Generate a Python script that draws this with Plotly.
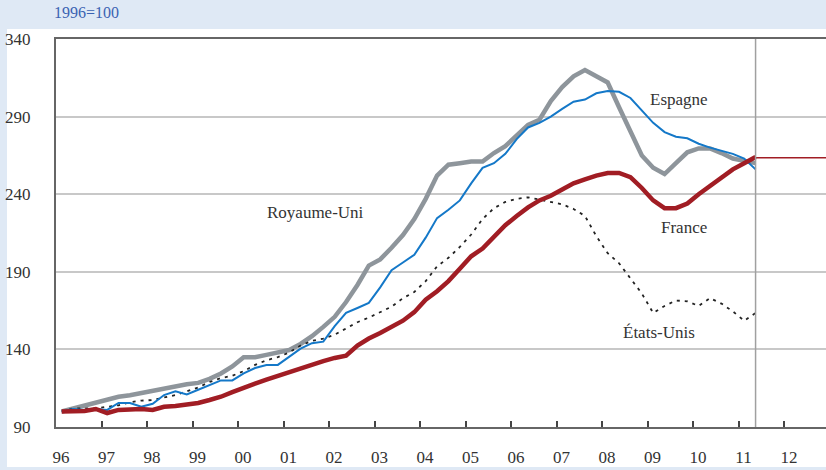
import plotly.graph_objects as go

# quarterly, 1996 Q1 .. 2011 Q2 (1996=100)
quarters = [1996 + 0.125 + 0.25 * i for i in range(62)]

royaume_uni = [100, 102, 104, 106, 108, 109.5, 110.5, 112, 113, 114.5, 116, 117.5,
               118.4, 121, 124.5, 129, 135, 135, 136.5, 138, 139.6, 143.5, 148.5, 154.5,
               161, 170.5, 181.5, 194, 198, 205.5, 213.7, 224, 237, 252, 259, 260,
               261, 261, 266.5, 271, 278, 284.6, 288, 300, 309, 316, 320, 316,
               312, 296, 281, 265, 257, 253, 260, 267, 269.5, 269.5, 266.5, 263,
               261.5, 260]
espagne = [100, 101.6, 101, 101.6, 101, 105.5, 105.5, 103, 105, 110.6, 113, 111,
           114, 117, 120, 120, 124.5, 128, 130, 130, 135, 140.5, 144, 145,
           155, 163.5, 166.7, 170, 180, 191, 196, 201, 212, 224.6, 230, 236,
           247, 257, 260, 266, 275.5, 283, 286, 290, 295, 299.6, 301, 305,
           306.5, 306, 302, 294, 286, 280, 277, 276, 272.5, 270, 268, 266,
           263, 256]
france = [100, 100, 100.3, 101.6, 99, 101, 101.3, 101.6, 101, 103, 103.6, 104.5,
          105.5, 107.4, 109.5, 112.5, 115.5, 118, 120.5, 123, 125.4, 128, 130.5, 132.5,
          134.5, 136, 142.5, 147, 150.6, 154.5, 158.5, 164, 172, 177.5, 184, 192,
          200, 205, 213, 220, 226, 231.5, 236, 239, 243, 247, 249.5, 252,
          253.7, 253.7, 251, 244, 236, 231, 231, 234, 240, 245.5, 251, 256,
          260, 264]
etats_unis = [100, 102, 102, 102, 103, 104, 106, 107, 107.4, 109, 110.6, 113,
              115.5, 119, 121.5, 123, 126, 130, 133, 135, 138, 142.5, 145.5, 147,
              149.5, 153.5, 157.5, 160.5, 164, 167.5, 173, 177, 184, 193.5, 199, 206,
              214, 224, 231, 235, 237, 238, 236.5, 235, 233.5, 230.5, 226, 213,
              202, 195.5, 186, 176, 163.5, 168, 171.5, 171, 168, 173, 169.5, 164.5,
              158.5, 163.5]

year_ticks = list(range(1996, 2013))
year_labels = ['%02d' % (y % 100) for y in year_ticks]
last_x = quarters[-1]
last_fr = 263.5

serif = "'Liberation Serif', 'DejaVu Serif', serif"
fig = go.Figure()

fig.add_trace(go.Scatter(x=quarters, y=royaume_uni, mode='lines', name='Royaume-Uni',
                         line=dict(color='#8e959b', width=4.5)))
fig.add_trace(go.Scatter(x=quarters, y=etats_unis, mode='lines', name='États-Unis',
                         line=dict(color='#222222', width=1.8, dash='3px,5px')))
fig.add_trace(go.Scatter(x=quarters, y=espagne, mode='lines', name='Espagne',
                         line=dict(color='#1478c8', width=2)))
fig.add_trace(go.Scatter(x=quarters, y=france, mode='lines', name='France',
                         line=dict(color='#a11d24', width=4.5)))
# prolongation France
fig.add_trace(go.Scatter(x=[last_x, 2012.95], y=[last_fr, last_fr], mode='lines',
                         line=dict(color='#a11d24', width=1.5), showlegend=False))

# white panel on light blue background
fig.add_shape(type='rect', xref='paper', yref='paper', x0=-49 / 770, x1=1.01,
              y0=-40 / 388, y1=1 + 10 / 388, fillcolor='white', line_width=0, layer='below')
# separator line
fig.add_shape(type='line', x0=last_x, x1=last_x, yref='paper', y0=0, y1=1,
              line=dict(color='#a0a0a0', width=1.5))

for txt, x, y in [('Espagne', 2009.7, 301), ('Royaume-Uni', 2001.7, 228),
                  ('France', 2009.8, 218.5), ('États-Unis', 2009.25, 151)]:
    fig.add_annotation(x=x, y=y, text=txt, showarrow=False,
                       font=dict(family=serif, size=17, color='#333333'))

fig.add_annotation(xref='paper', yref='paper', x=-4 / 770, y=1 + 27 / 388, text='1996=100',
                   showarrow=False, xanchor='left', yanchor='middle',
                   font=dict(family=serif, size=16, color='#3a62b2'))

fig.update_xaxes(range=[1996, 2012.923], tickvals=year_ticks, ticktext=year_labels,
                 ticks='inside', ticklen=6, tickwidth=1.5, tickcolor='#444444',
                 showline=True, linecolor='#666666', linewidth=2, mirror=True,
                 showgrid=False, zeroline=False, ticklabelshift=5, ticklabelstandoff=14,
                 automargin=False,
                 tickfont=dict(family=serif, size=17, color='#333333'))
fig.update_yaxes(range=[90, 340], tickvals=[90, 140, 190, 240, 290, 340],
                 showline=True, linecolor='#666666', linewidth=2,
                 showgrid=True, gridcolor='#c8c8c8', gridwidth=1.5, zeroline=False,
                 ticks='', ticklabelstandoff=20, automargin=False,
                 tickfont=dict(family=serif, size=17, color='#333333'))

fig.update_layout(width=826, height=470, showlegend=False,
                  margin=dict(l=56, r=0, t=39, b=43),
                  paper_bgcolor='#dfe9f5', plot_bgcolor='white')

fig.write_html("out.html", config={'displayModeBar': False},
               post_script="document.body.style.margin='0';")
